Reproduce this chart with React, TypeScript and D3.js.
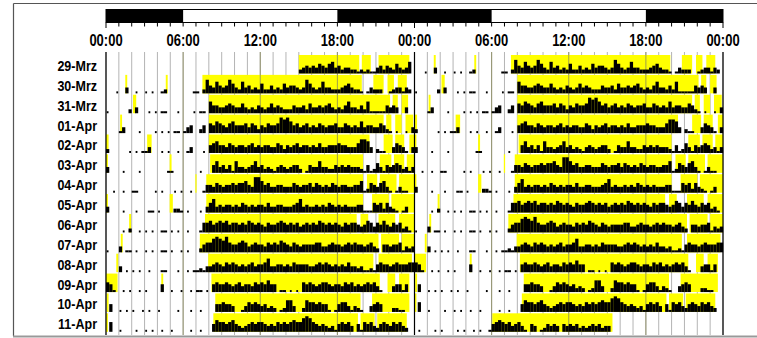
import * as d3 from 'd3'

// one row per day, double plotted: row i = day i (left) + day i+1 (right)
const rowLabels = [
  '29-Mrz', '30-Mrz', '31-Mrz', '01-Apr', '02-Apr', '03-Apr', '04-Apr',
  '05-Apr', '06-Apr', '07-Apr', '08-Apr', '09-Apr', '10-Apr', '11-Apr',
]

const hourLabels = ['00:00', '06:00', '12:00', '18:00', '00:00', '06:00', '12:00', '18:00', '00:00']

// dark phases of the top bar, in hours of the 48 h axis
const darkPhases = [[0, 6], [18, 30], [42, 48]]

// activity per day, 15-min bins (4 per hour), level 0-9
const activity = [
  // 29-Mrz (recording starts ~15:00)
  '0000 0000 0000 0000 0000 0000 0000 0000 0000 0000 0000 0000 0000 0000 0000 2343 4354 3563 4233 2212 1211 3424 3253 2360',
  // 30-Mrz
  '0001 0030 0100 1010 0120 0000 0001 1027 4364 3475 3263 4232 5224 2325 3443 2375 3236 3322 2345 3221 0132 2200 1233 1320',
  // 31-Mrz
  '1000 0002 0300 0101 0110 0010 0001 0110 6443 3454 3353 2324 3235 3432 2243 3425 3343 4532 3246 3324 2611 1114 3430 0300',
  // 01-Apr
  '0000 1300 0010 0001 0101 0110 1340 0240 5465 4356 4445 3542 4354 4587 8645 3453 4354 3445 3354 3436 3443 3542 1010 0103',
  // 02-Apr
  '2000 0001 0101 1300 0101 0010 0130 0010 4564 4354 3443 4534 3443 3542 4345 3443 4353 3444 5443 3357 7630 2110 0354 3103',
  // 03-Apr
  '3000 0100 0010 0000 0001 1000 0000 0100 0463 4241 6332 3463 4232 1343 2344 2014 3363 3224 3434 3332 1412 5314 3454 2313',
  // 04-Apr
  '0010 0100 1100 0001 0100 0101 0010 0014 4354 3445 4556 4388 6453 3443 3354 3445 3543 4354 3443 3446 1254 3563 1013 1100',
  // 05-Apr
  '3000 0100 0100 0110 1000 0221 0100 0103 5734 3443 4354 3434 4353 3443 3345 7343 3434 3543 4343 3344 1115 4525 3210 1300',
  // 06-Apr
  '0000 0102 0010 1010 0110 1010 0100 0155 6456 5645 5454 6545 4354 4565 4545 3454 5465 4545 4354 5543 4653 5464 3545 2310',
  // 07-Apr
  '1000 3011 0100 1010 0110 1001 0100 0245 5787 6854 4565 3454 4354 5465 4354 3444 4553 3454 4345 4544 3453 2044 3445 1323',
  // 08-Apr
  '0000 3010 1010 0100 0110 0010 0101 1213 3454 3545 4343 4534 4573 3443 4354 4443 3454 5434 3435 3323 1121 4544 3454 4455',
  // 09-Apr
  '5410 0101 0010 1000 0400 1001 0010 1101 0454 4543 4534 4354 5464 4011 0101 0545 4345 5434 4354 5343 4545 3100 0344 1400',
  // 10-Apr
  '0400 1010 1001 0100 1000 0010 0010 0100 0044 5443 0013 5454 3423 2012 6630 0265 5454 4101 4553 1321 0034 5400 0221 1000',
  // 11-Apr
  '0500 1000 0100 1010 0100 1000 0010 0100 0465 5456 4323 4545 5434 3545 4565 5787 5434 3231 4545 3041 5453 2454 3545 3200',
  // 12-Apr (recording ends ~15:30)
  '0100 0010 1000 0101 0010 1001 4565 4534 5310 4301 2434 3043 4342 3234 3423 3000 0000 0000 0000 0000 0000 0000 0000 0000',
]

// light-on intervals per day, [start, end] in hours
const lights = [
  [[15.0, 19.7], [19.9, 20.6], [21.2, 23.6]],
  [[1.5, 1.65], [4.65, 4.8], [7.5, 19.9], [20.8, 21.6], [21.9, 22.4], [22.7, 23.4]],
  [[2.1, 2.35], [8.0, 22.1], [22.3, 22.7], [23.0, 23.5]],
  [[1.1, 1.25], [8.0, 21.6], [21.8, 22.2], [22.5, 23.0], [23.3, 23.9]],
  [[0, 0.2], [3.2, 3.55], [8.0, 20.5], [21.6, 22.3], [22.5, 23.2], [23.6, 24]],
  [[0, 0.15], [4.95, 5.1], [8.1, 20.0], [21.3, 22.2], [22.4, 23.2], [23.4, 24]],
  [[6.95, 7.05], [7.8, 20.0], [20.3, 21.1], [21.3, 22.6], [22.8, 24]],
  [[0, 0.15], [4.95, 5.2], [7.8, 20.0], [20.7, 22.0], [22.2, 24]],
  [[1.8, 1.95], [7.7, 19.5], [19.8, 20.4], [21.2, 22.5], [22.8, 24]],
  [[1.15, 1.3], [7.3, 21.2], [21.4, 22.8], [23.0, 24]],
  [[0.8, 0.95], [7.95, 20.8], [21.2, 23.8]],
  [[0, 0.9], [4.3, 4.45], [8.2, 21.3], [21.9, 22.5], [22.8, 23.6]],
  [[0.05, 0.2], [8.5, 19.8], [20.7, 23.6]],
  [[0, 0.15], [8.35, 19.6], [19.8, 20.9], [21.1, 23.4]],
  [[6.05, 15.4]],
]

const FONT = "'Liberation Sans', Arial, sans-serif"

export default function App() {
  const width = 757
  const height = 338

  const x = d3.scaleLinear().domain([0, 48]).range([106, 723])
  const base = d3.scaleLinear().domain([0, rowLabels.length - 1]).range([73.5, 331.8])
  const barH = d3.scaleLinear().domain([0, 1, 9]).range([0, 2, 17.5])
  const rowH = 18.5
  const binW = x(0.25) - x(0)

  const levels = activity.map((s) => s.replace(/\s/g, '').split('').map(Number))

  const hours = d3.range(0, 49)
  const gridTop = 52
  const gridBottom = 335

  const yellow: JSX.Element[] = []
  const bars: JSX.Element[] = []
  rowLabels.forEach((_, i) => {
    const yb = base(i)
    ;[0, 1].forEach((half) => {
      const day = i + half
      const off = half * 24
      lights[day].forEach(([s, e], j) => {
        yellow.push(
          <rect
            key={`l${i}-${half}-${j}`}
            x={x(off + s)}
            y={yb - rowH}
            width={x(off + e) - x(off + s)}
            height={rowH}
            fill="#ffff00"
          />
        )
      })
      const lv = levels[day]
      lv.forEach((v, b) => {
        if (!v) return
        const isolated = v <= 1 && !lv[b - 1] && !lv[b + 1]
        const w = isolated ? 1.8 : binW + 0.05
        const bx = isolated ? x(off + b / 4) + binW / 2 - 0.9 : x(off + b / 4)
        bars.push(
          <rect
            key={`a${i}-${half}-${b}`}
            x={bx}
            y={yb - barH(v)}
            width={w}
            height={barH(v)}
            fill="#000"
          />
        )
      })
    })
  })

  return (
    <svg
      width={width}
      height={height}
      style={{ position: 'absolute', left: 0, top: 0, background: '#fff' }}
    >
      {/* frame */}
      <line x1={13.5} y1={3.5} x2={757} y2={3.5} stroke="#555" strokeWidth={1.2} />
      <line x1={13.5} y1={3.5} x2={13.5} y2={336} stroke="#555" strokeWidth={1.2} />
      <line x1={13} y1={336.5} x2={757} y2={336.5} stroke="#999" strokeWidth={2} />

      {/* light/dark bar */}
      <rect x={x(0)} y={9.5} width={x(48) - x(0)} height={13} fill="#fff" stroke="#000" strokeWidth={1} />
      {darkPhases.map(([s, e], i) => (
        <rect key={`d${i}`} x={x(s)} y={9.5} width={x(e) - x(s)} height={13} fill="#000" />
      ))}
      {hours.map((hr) => (
        <line
          key={`t${hr}`}
          x1={x(hr)}
          x2={x(hr)}
          y1={22.5}
          y2={hr % 24 === 0 ? 28 : 26.5}
          stroke="#000"
          strokeWidth={1}
        />
      ))}
      {hourLabels.map((t, i) => (
        <text
          key={`hl${i}`}
          transform={`translate(${x(i * 6)},45.5) scale(1,1.33)`}
          textAnchor="middle"
          fontFamily={FONT}
          fontWeight="bold"
          fontSize={13}
          fill="#000"
        >
          {t}
        </text>
      ))}

      {/* hourly grid */}
      {hours.map((hr) => (
        <line
          key={`g${hr}`}
          x1={x(hr)}
          x2={x(hr)}
          y1={gridTop}
          y2={gridBottom}
          stroke="#b4b4b4"
          strokeWidth={1}
        />
      ))}

      {yellow}

      {/* 6 h lines */}
      {hours
        .filter((hr) => hr % 6 === 0 && hr % 24 !== 0)
        .map((hr) => (
          <line
            key={`s${hr}`}
            x1={x(hr)}
            x2={x(hr)}
            y1={gridTop}
            y2={gridBottom}
            stroke="#8a8a5a"
            strokeOpacity={0.8}
            strokeWidth={1}
          />
        ))}

      {bars}

      {/* midnight lines */}
      {[0, 24, 48].map((hr) => (
        <line
          key={`m${hr}`}
          x1={x(hr)}
          x2={x(hr)}
          y1={gridTop}
          y2={gridBottom}
          stroke="#000"
          strokeWidth={1.2}
        />
      ))}

      {rowLabels.map((d, i) => (
        <text
          key={`r${d}`}
          transform={`translate(97,${base(i) - 2.5}) scale(1,1.15)`}
          textAnchor="end"
          fontFamily={FONT}
          fontWeight="bold"
          fontSize={12.5}
          fill="#000"
        >
          {d}
        </text>
      ))}
    </svg>
  )
}
